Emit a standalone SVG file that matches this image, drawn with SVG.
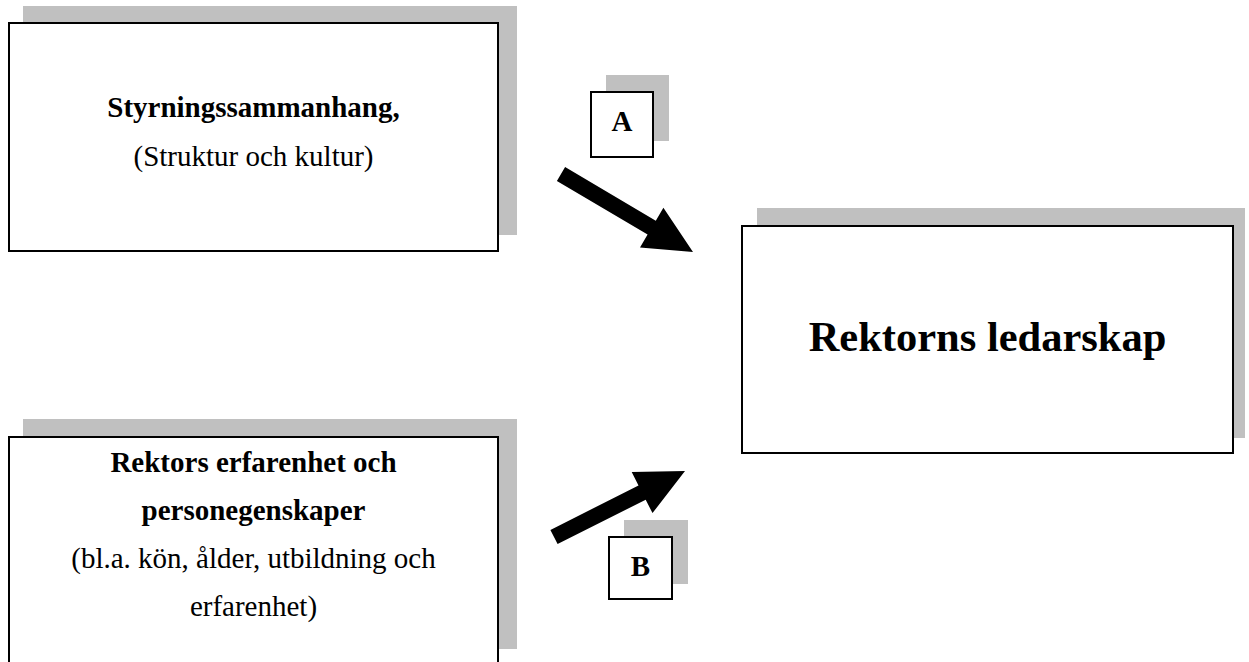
<svg xmlns="http://www.w3.org/2000/svg" width="1249" height="662" viewBox="0 0 1249 662">
<style>
.shadow{fill:#c0c0c0;stroke:none}
.box{fill:#ffffff;stroke:#000000;stroke-width:2}
.arrow{fill:#000000;stroke:none}
text{font-family:"Liberation Serif","Times New Roman",serif;fill:#000000;text-anchor:middle}
.b{font-weight:bold}
.t29{font-size:29px}
.t42{font-size:42.5px}
</style>
<rect width="1249" height="662" fill="#ffffff"/>
<g id="node-styrning">
<rect class="shadow" x="23" y="6" width="494" height="229"/>
<rect class="box" x="9" y="23" width="489" height="228"/>
<text class="b t29" x="253.5" y="117">Styrningssammanhang,</text>
<text class="t29" x="253.5" y="166">(Struktur och kultur)</text>
</g>
<g id="node-rektorns">
<rect class="shadow" x="757" y="208" width="488" height="230"/>
<rect class="box" x="742" y="226" width="491" height="227"/>
<text class="b t42" x="987.5" y="351">Rektorns ledarskap</text>
</g>
<g id="node-rektors">
<rect class="shadow" x="23" y="419" width="494" height="230"/>
<rect class="box" x="9" y="437" width="489" height="230"/>
<text class="b t29" x="253.5" y="472">Rektors erfarenhet och</text>
<text class="b t29" x="253.5" y="520">personegenskaper</text>
<text class="t29" x="253.5" y="568">(bl.a. kön, ålder, utbildning och</text>
<text class="t29" x="253.5" y="616">erfarenhet)</text>
</g>
<g id="node-A">
<rect class="shadow" x="606" y="75" width="63" height="66"/>
<rect class="box" x="591" y="92" width="62" height="65"/>
<text class="b t29" x="622" y="131">A</text>
</g>
<g id="node-B">
<rect class="shadow" x="624" y="520" width="64" height="64"/>
<rect class="box" x="609" y="537" width="63" height="62"/>
<text class="b t29" x="640.5" y="576">B</text>
</g>
<g id="connectors">
<polygon class="arrow" points="556.9,180.9 565.1,167.1 655.8,220.7 663.4,207.8 693,252 640,247.4 647.6,234.5"/>
<polygon class="arrow" points="557.6,544.1 550.4,529.9 638.5,485.5 631.7,472.1 685,471 652.5,513.1 645.7,499.7"/>
</g>
</svg>
